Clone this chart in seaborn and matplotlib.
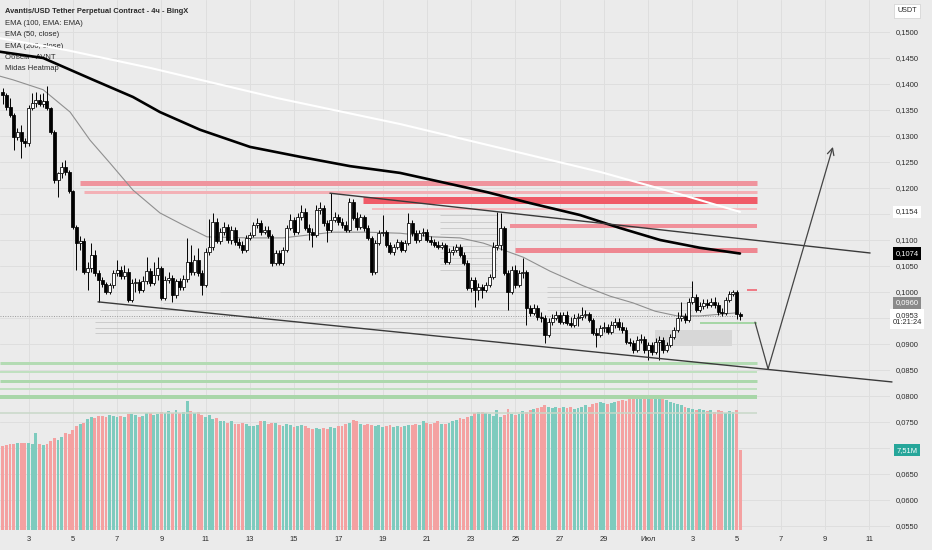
import numpy as np
import matplotlib
matplotlib.use("Agg")
import matplotlib.pyplot as plt
import matplotlib.transforms as mtransforms
from matplotlib.patches import Rectangle
import seaborn as sns

# 4h candles of AVNT/USDT (first candle: 2 June 20:00)
first_open = 0.1384
closes = [
    0.1379, 0.1356, 0.1340, 0.1298, 0.1308, 0.1290, 0.1287, 0.1354, 0.1363, 0.1369,
    0.1362, 0.1367, 0.1354, 0.1308, 0.1215, 0.1229, 0.1240, 0.1231, 0.1194, 0.1125,
    0.1094, 0.1098, 0.1038, 0.1046, 0.1071, 0.1037, 0.1023, 0.1015, 0.1000, 0.1013,
    0.1037, 0.1042, 0.1031, 0.1038, 0.0985, 0.1017, 0.1019, 0.1004, 0.1021, 0.1040,
    0.1017, 0.1033, 0.1046, 0.0988, 0.1023, 0.1027, 0.0994, 0.1021, 0.1010, 0.1025,
    0.1058, 0.1038, 0.1062, 0.1037, 0.1013, 0.1077, 0.1087, 0.1135, 0.1098, 0.1115,
    0.1125, 0.1100, 0.1119, 0.1096, 0.1090, 0.1081, 0.1104, 0.1110, 0.1129, 0.1133,
    0.1115, 0.1119, 0.1108, 0.1056, 0.1075, 0.1056, 0.1081, 0.1123, 0.1138, 0.1115,
    0.1144, 0.1154, 0.1123, 0.1115, 0.1110, 0.1158, 0.1162, 0.1133, 0.1119, 0.1138,
    0.1144, 0.1135, 0.1129, 0.1119, 0.1173, 0.1142, 0.1125, 0.1144, 0.1123, 0.1104,
    0.1038, 0.1094, 0.1113, 0.1115, 0.1090, 0.1077, 0.1087, 0.1096, 0.1081, 0.1094,
    0.1133, 0.1113, 0.1100, 0.1113, 0.1115, 0.1100, 0.1096, 0.1090, 0.1087, 0.1090,
    0.1058, 0.1077, 0.1081, 0.1087, 0.1071, 0.1056, 0.1008, 0.1023, 0.1004, 0.1010,
    0.1004, 0.1013, 0.1029, 0.1087, 0.1090, 0.1123, 0.1037, 0.1000, 0.1042, 0.1013,
    0.1037, 0.1038, 0.0969, 0.0960, 0.0969, 0.0952, 0.0950, 0.0917, 0.0942, 0.0950,
    0.0956, 0.0942, 0.0956, 0.0940, 0.0937, 0.0950, 0.0952, 0.0956, 0.0958, 0.0946,
    0.0921, 0.0917, 0.0931, 0.0933, 0.0923, 0.0937, 0.0942, 0.0933, 0.0927, 0.0904,
    0.0902, 0.0888, 0.0908, 0.0910, 0.0888, 0.0898, 0.0885, 0.0904, 0.0908, 0.0888,
    0.0898, 0.0913, 0.0927, 0.0950, 0.0954, 0.0946, 0.0981, 0.0990, 0.0965, 0.0973,
    0.0979, 0.0975, 0.0981, 0.0975, 0.0962, 0.0960, 0.0985, 0.0996, 0.1000, 0.0958,
    0.0953,
]
highs = [
    0.1392, 0.1383, 0.1373, 0.1344, 0.1315, 0.1321, 0.1296, 0.1360, 0.1383, 0.1384,
    0.1381, 0.1383, 0.1396, 0.1356, 0.1312, 0.1231, 0.1250, 0.1254, 0.1235, 0.1196,
    0.1129, 0.1108, 0.1104, 0.1058, 0.1094, 0.1081, 0.1042, 0.1029, 0.1019, 0.1017,
    0.1042, 0.1062, 0.1050, 0.1052, 0.1046, 0.1025, 0.1027, 0.1025, 0.1031, 0.1067,
    0.1046, 0.1058, 0.1067, 0.1050, 0.1031, 0.1038, 0.1033, 0.1025, 0.1027, 0.1033,
    0.1104, 0.1090, 0.1071, 0.1085, 0.1042, 0.1085, 0.1140, 0.1152, 0.1142, 0.1123,
    0.1135, 0.1131, 0.1127, 0.1125, 0.1104, 0.1098, 0.1110, 0.1115, 0.1135, 0.1142,
    0.1138, 0.1127, 0.1127, 0.1112, 0.1081, 0.1081, 0.1087, 0.1129, 0.1150, 0.1144,
    0.1152, 0.1167, 0.1162, 0.1131, 0.1123, 0.1167, 0.1173, 0.1167, 0.1138, 0.1190,
    0.1154, 0.1150, 0.1142, 0.1137, 0.1181, 0.1179, 0.1154, 0.1150, 0.1148, 0.1129,
    0.1108, 0.1100, 0.1119, 0.1148, 0.1119, 0.1096, 0.1092, 0.1102, 0.1100, 0.1100,
    0.1152, 0.1138, 0.1119, 0.1119, 0.1123, 0.1121, 0.1108, 0.1102, 0.1098, 0.1096,
    0.1094, 0.1085, 0.1088, 0.1092, 0.1092, 0.1077, 0.1062, 0.1029, 0.1029, 0.1017,
    0.1015, 0.1019, 0.1035, 0.1096, 0.1154, 0.1152, 0.1127, 0.1042, 0.1050, 0.1052,
    0.1042, 0.1065, 0.1042, 0.0975, 0.0977, 0.0975, 0.0962, 0.0956, 0.0950, 0.0958,
    0.0963, 0.0962, 0.0962, 0.0963, 0.0952, 0.0958, 0.0960, 0.0971, 0.0965, 0.0962,
    0.0950, 0.0931, 0.0937, 0.0942, 0.0938, 0.0944, 0.0950, 0.0950, 0.0942, 0.0933,
    0.0912, 0.0908, 0.0915, 0.0919, 0.0915, 0.0904, 0.0904, 0.0912, 0.0915, 0.0913,
    0.0904, 0.0919, 0.0933, 0.0962, 0.0981, 0.0960, 0.0988, 0.1021, 0.0996, 0.0981,
    0.0987, 0.0987, 0.0988, 0.0990, 0.0981, 0.0969, 0.0990, 0.1002, 0.1004, 0.1004,
    0.0962,
]
lows = [
    0.1362, 0.1350, 0.1337, 0.1273, 0.1292, 0.1258, 0.1279, 0.1281, 0.1350, 0.1356,
    0.1358, 0.1356, 0.1350, 0.1304, 0.1210, 0.1183, 0.1219, 0.1225, 0.1190, 0.1121,
    0.1042, 0.1081, 0.1035, 0.1004, 0.1038, 0.1031, 0.0981, 0.1010, 0.0996, 0.0996,
    0.1008, 0.1031, 0.1025, 0.1025, 0.0981, 0.0981, 0.1000, 0.0998, 0.1000, 0.1015,
    0.1012, 0.1013, 0.1023, 0.0985, 0.0985, 0.1017, 0.0981, 0.0988, 0.1004, 0.1004,
    0.1019, 0.1033, 0.1033, 0.1031, 0.0994, 0.1010, 0.1071, 0.1081, 0.1094, 0.1092,
    0.1110, 0.1094, 0.1092, 0.1090, 0.1085, 0.1075, 0.1077, 0.1100, 0.1106, 0.1123,
    0.1110, 0.1112, 0.1104, 0.1050, 0.1052, 0.1052, 0.1052, 0.1077, 0.1119, 0.1110,
    0.1112, 0.1138, 0.1119, 0.1100, 0.1087, 0.1106, 0.1150, 0.1127, 0.1096, 0.1115,
    0.1135, 0.1129, 0.1123, 0.1115, 0.1115, 0.1138, 0.1119, 0.1121, 0.1117, 0.1100,
    0.1033, 0.1035, 0.1090, 0.1108, 0.1087, 0.1073, 0.1071, 0.1083, 0.1077, 0.1077,
    0.1090, 0.1108, 0.1094, 0.1096, 0.1108, 0.1096, 0.1090, 0.1087, 0.1083, 0.1083,
    0.1054, 0.1054, 0.1071, 0.1077, 0.1067, 0.1052, 0.1004, 0.1000, 0.0971, 0.0985,
    0.0988, 0.1000, 0.1010, 0.1025, 0.1081, 0.1081, 0.1033, 0.0965, 0.0996, 0.1008,
    0.1010, 0.1027, 0.0937, 0.0954, 0.0956, 0.0946, 0.0942, 0.0902, 0.0913, 0.0937,
    0.0946, 0.0938, 0.0938, 0.0937, 0.0933, 0.0933, 0.0935, 0.0946, 0.0950, 0.0942,
    0.0917, 0.0894, 0.0913, 0.0923, 0.0919, 0.0919, 0.0931, 0.0927, 0.0921, 0.0900,
    0.0896, 0.0883, 0.0885, 0.0902, 0.0883, 0.0869, 0.0879, 0.0881, 0.0869, 0.0883,
    0.0885, 0.0894, 0.0910, 0.0923, 0.0944, 0.0940, 0.0942, 0.0977, 0.0962, 0.0962,
    0.0967, 0.0969, 0.0971, 0.0969, 0.0956, 0.0954, 0.0956, 0.0981, 0.0992, 0.0948,
    0.0946,
]
# volume per candle, millions AVNT
volumes = [
    7.9, 8.0, 8.1, 8.1, 8.2, 8.2, 8.2, 8.2, 8.1, 9.1,
    8.1, 8.0, 8.1, 8.4, 8.6, 8.5, 8.7, 9.1, 9.0, 9.4,
    9.8, 10.0, 10.1, 10.4, 10.6, 10.5, 10.7, 10.7, 10.6, 10.8,
    10.7, 10.6, 10.7, 10.6, 10.9, 10.9, 10.8, 10.6, 10.7, 11.0,
    11.0, 10.8, 10.9, 11.1, 11.0, 11.2, 11.0, 11.3, 11.0, 11.1,
    12.1, 11.2, 11.0, 11.1, 10.8, 10.6, 10.8, 10.4, 10.5, 10.2,
    10.2, 10.1, 10.2, 10.0, 10.0, 10.1, 10.0, 9.8, 9.8, 9.9,
    10.2, 10.2, 10.0, 10.1, 10.1, 9.9, 9.8, 10.0, 9.9, 9.7,
    9.8, 9.9, 9.8, 9.6, 9.5, 9.6, 9.5, 9.6, 9.5, 9.7,
    9.6, 9.8, 9.8, 10.0, 10.1, 10.3, 10.2, 10.0, 9.9, 10.0,
    9.9, 9.8, 9.9, 9.7, 9.8, 9.9, 9.7, 9.8, 9.7, 9.8,
    9.9, 9.9, 10.0, 9.9, 10.2, 10.1, 10.0, 10.1, 10.2, 10.0,
    10.0, 10.1, 10.2, 10.3, 10.5, 10.4, 10.6, 10.7, 11.0, 11.1,
    11.1, 11.0, 10.9, 10.7, 11.3, 10.6, 10.8, 11.4, 10.9, 10.8,
    10.9, 11.2, 11.1, 11.3, 11.4, 11.5, 11.6, 11.7, 11.6, 11.5,
    11.6, 11.5, 11.6, 11.5, 11.6, 11.4, 11.5, 11.6, 11.7, 11.6,
    11.8, 11.9, 12.0, 11.9, 11.8, 11.9, 12.0, 12.1, 12.2, 12.1,
    12.3, 12.4, 12.5, 12.5, 12.6, 12.5, 12.4, 12.6, 12.4, 12.3,
    12.2, 12.0, 11.9, 11.8, 11.7, 11.6, 11.5, 11.4, 11.3, 11.4,
    11.3, 11.2, 11.3, 11.1, 11.3, 11.2, 11.0, 11.2, 11.1, 11.3,
    7.51,
]

# moving averages, sampled along the drawn lines (x = days from 3 June)
ema50_days = [-1.29, -0.70, 0.66, 1.88, 2.78, 3.68, 4.72, 5.94, 6.98, 8.07, 10.01,
              11.50, 12.72, 13.76, 15.30, 16.79, 18.28, 19.50, 20.55, 21.44, 22.35,
              23.57, 25.06, 26.28, 27.32, 28.32, 29.31, 30.35, 32.02]
ema50_vals = [0.1415, 0.1408, 0.1389, 0.1346, 0.1292, 0.1248, 0.1196, 0.1152, 0.1129,
              0.1106, 0.1104, 0.1104, 0.1110, 0.1115, 0.1115, 0.1113, 0.1106, 0.1104,
              0.1094, 0.1081, 0.1067, 0.1040, 0.1012, 0.0992, 0.0979, 0.0963, 0.0954,
              0.0954, 0.0960]
ema100_days = [-1.29, 1.74, 5.49, 11.23, 16.79, 21.31, 25.82, 29.44, 32.15]
ema100_vals = [0.1488, 0.1465, 0.1431, 0.1373, 0.1323, 0.1277, 0.1231, 0.1188, 0.1154]
ema200_days = [-1.29, 0.66, 2.92, 4.72, 5.94, 7.75, 10.01, 12.27, 14.53, 16.79, 18.28,
               20.72, 22.66, 24.92, 26.73, 28.54, 30.34, 32.15]
ema200_vals = [0.1462, 0.1450, 0.1408, 0.1375, 0.1346, 0.1312, 0.1279, 0.1260, 0.1242,
               0.1229, 0.1215, 0.1192, 0.1171, 0.1148, 0.1123, 0.1100, 0.1085, 0.1074]

# Midas heatmap levels
red_levels = [0.1210, 0.1192, 0.1177, 0.1160, 0.1127, 0.1081, 0.1003]
red_start = [2.33, 2.51, 15.12, 15.52, 21.76, 21.98, 32.47]
green_levels = [0.0941, 0.0863, 0.0846, 0.0829, 0.0813, 0.0798, 0.0767]
green_start = [30.34, -1.3, -1.3, -1.3, -1.3, -1.3, -1.3]
heat_end = 32.92
gray_levels = [0.1000, 0.0979, 0.0965, 0.0942, 0.0931, 0.0921,
               0.1010, 0.1000, 0.0990, 0.0979, 0.0965,
               0.1148, 0.1135, 0.1123, 0.1112, 0.1100, 0.1088, 0.1077, 0.1065, 0.1054, 0.1042]
gray_start = [8.66, 6.08, 3.23, 3.0, 3.0, 3.0,
              23.43, 23.43, 23.43, 23.43, 23.43,
              18.6, 18.6, 18.6, 18.6, 18.6, 18.6, 18.6, 18.6, 18.6, 18.6]
gray_end = [22.43, 22.43, 22.43, 22.43, 25.8, 27.6,
            29.98, 29.98, 29.98, 29.98, 29.98,
            21.17, 21.17, 21.17, 21.17, 21.17, 21.17, 21.17, 21.17, 21.17, 21.17]
gray_box_days = [28.3, 31.79]
gray_box_vals = [0.0896, 0.0927]

# drawn trend lines and the projected path
upper_days, upper_vals = [13.62, 38.03], [0.1190, 0.1075]
lower_days, lower_vals = [3.14, 39.02], [0.0981, 0.0827]
proj_days, proj_vals = [32.83, 33.42, 36.35], [0.0942, 0.0852, 0.1279]

last_price = 0.0953
ema50_last = 0.0960
ema100_last = 0.1154
ema200_last = 0.1074
last_volume = 7.51

day_ticks = list(range(0, 39, 2))
day_labels = ["3", "5", "7", "9", "11", "13", "15", "17", "19", "21", "23", "25",
              "27", "29", "Июл", "3", "5", "7", "9", "11"]
price_ticks = [0.055, 0.060, 0.065, 0.070, 0.075, 0.080, 0.085, 0.090, 0.095, 0.100,
               0.105, 0.110, 0.115, 0.120, 0.125, 0.130, 0.135, 0.140, 0.145, 0.150]
hidden_ticks = [0.070, 0.095, 0.115]

# styles
bg = "#ebebeb"
grid_c = "#dedede"
txt = "#2a2a2a"
red_colors = ["#ef949d", "#f3b1b6", "#f05b68", "#f5bcc0", "#f0909a", "#ee8791", "#ef7b86"]
red_widths = [5, 3, 7, 2, 4, 5, 2]
green_colors = ["#a6d6a6", "#b3dbb3", "#c0e0c0", "#acd8ac", "#c0e0c0", "#a8d6a8", "#c8d8c8"]
green_widths = [2, 3, 2, 3, 2, 4, 1.5]

sns.set_theme(style="white")
plt.rcParams["font.family"] = ["Liberation Sans", "DejaVu Sans"]

fig = plt.figure(figsize=(9.32, 5.5), dpi=100, facecolor=bg)
ax = fig.add_axes([0, 20 / 550, 890 / 932, 530 / 550])
axv = ax.twinx()
ax.set_zorder(2)
axv.set_zorder(1)
ax.patch.set_visible(False)

ax.set_xlim(-1.288, 38.93)
ax.set_ylim(0.05423, 0.15615)
axv.set_ylim(0, 49.8)

# grid behind everything
grid_tr = mtransforms.blended_transform_factory(axv.transAxes, ax.transData)
for p in price_ticks:
    axv.plot([0, 1], [p, p], transform=grid_tr, color=grid_c, lw=0.7, zorder=0)
for d in day_ticks:
    axv.axvline(d, color=grid_c, lw=0.7, zorder=0)

# candles
n = len(closes)
t = -7 / 6 + np.arange(n) / 6
c = np.array(closes)
o = np.r_[first_open, c[:-1]]
h = np.maximum(np.array(highs), np.maximum(o, c))
l = np.minimum(np.array(lows), np.minimum(o, c))
up = c >= o
body = np.maximum(np.abs(c - o), 0.00008)
bottom = np.minimum(o, c)

# volume
vol_colors = np.where(up, "#7ecbbe", "#f4a1a1")
axv.bar(t, volumes, width=0.13, color=vol_colors, linewidth=0, zorder=1)

# heatmap lines
ax.hlines(red_levels, red_start, heat_end, colors=red_colors,
          linewidths=[w * 0.72 for w in red_widths], zorder=2)
ax.hlines(green_levels, green_start, heat_end, colors=green_colors,
          linewidths=[w * 0.72 for w in green_widths], zorder=2)
ax.hlines(gray_levels, gray_start, gray_end, colors="#c6c6c6", linewidths=0.6, zorder=2)
ax.add_patch(Rectangle((gray_box_days[0], gray_box_vals[0]),
                       gray_box_days[1] - gray_box_days[0],
                       gray_box_vals[1] - gray_box_vals[0],
                       facecolor="#d7d7d7", edgecolor="none", zorder=2))
ax.hlines(last_price, -1.3, t[-1], colors="#9a9a9a", linestyles=(0, (1, 1.5)),
          linewidths=0.7, zorder=2)

# moving averages
sns.lineplot(x=ema100_days, y=ema100_vals, ax=ax, color="white", lw=1.5, zorder=4)
sns.lineplot(x=ema50_days, y=ema50_vals, ax=ax, color="#8f8f8f", lw=0.8, zorder=4)
sns.lineplot(x=ema200_days, y=ema200_vals, ax=ax, color="black", lw=1.9, zorder=4)

ax.vlines(t, l, h, color="black", lw=0.7, zorder=5)
ax.bar(t[up], body[up], bottom=bottom[up], width=0.135, color="white",
       edgecolor="black", linewidth=0.55, zorder=6)
ax.bar(t[~up], body[~up], bottom=bottom[~up], width=0.135, color="black",
       edgecolor="black", linewidth=0.55, zorder=6)

# trend lines and projection
ax.plot(upper_days, upper_vals, color="#3a3a3a", lw=1.0, zorder=7, clip_on=False)
ax.plot(lower_days, lower_vals, color="#3a3a3a", lw=1.0, zorder=7, clip_on=False)
ax.plot(proj_days[:2], proj_vals[:2], color="#444444", lw=0.9, zorder=7)
ax.annotate("", xy=(proj_days[2], proj_vals[2]), xytext=(proj_days[1], proj_vals[1]),
            arrowprops=dict(arrowstyle="->", color="#444444", lw=0.9,
                            shrinkA=0, shrinkB=0), zorder=7)

# axes
for a in (ax, axv):
    for s in a.spines.values():
        s.set_visible(False)
axv.yaxis.set_visible(False)
ax.yaxis.tick_right()
ax.set_yticks(price_ticks)
ax.set_yticklabels(["" if p in hidden_ticks else f"{p:.4f}".replace(".", ",")
                    for p in price_ticks])
ax.tick_params(axis="y", length=0, pad=4.3, labelsize=5.4, labelcolor=txt)
ax.set_xticks(day_ticks)
ax.set_xticklabels(day_labels)
ax.tick_params(axis="x", length=0, pad=4.0, labelsize=5.4, labelcolor=txt)
ax.grid(False)
axv.grid(False)

# legend block top-left
legend_lines = ["EMA (100, EMA: EMA)", "EMA (50, close)", "EMA (200, close)",
                "Объем - AVNT", "Midas Heatmap"]
ax.text(5 / 890, 1 - 11.7 / 530, "Avantis/USD Tether Perpetual Contract - 4ч - BingX",
        transform=ax.transAxes, fontsize=5.4, fontweight="bold", color=txt,
        va="center", ha="left", zorder=1)
for k, s in enumerate(legend_lines):
    ax.text(5 / 890, 1 - (23.3 + 11.4 * k) / 530, s, transform=ax.transAxes,
            fontsize=5.5, color=txt, va="center", ha="left", zorder=1)

# price scale labels
tr_p = mtransforms.blended_transform_factory(ax.transAxes, ax.transData)
tr_v = mtransforms.blended_transform_factory(ax.transAxes, axv.transData)
lx = 907 / 890
box = dict(boxstyle="square,pad=0.35", ec="none")
ax.text(lx, 1 - 11 / 530, "USDT", transform=ax.transAxes, ha="center", va="center",
        fontsize=5.2, color=txt,
        bbox=dict(boxstyle="square,pad=0.5", fc="white", ec="#cfcfcf", lw=0.5))
ax.text(lx, ema100_last, f"{ema100_last:.4f}".replace(".", ","), transform=tr_p,
        ha="center", va="center", fontsize=5.4, color=txt, bbox=dict(box, fc="white"))
ax.text(lx, ema200_last, f"{ema200_last:.4f}".replace(".", ","), transform=tr_p,
        ha="center", va="center", fontsize=5.4, color="white", bbox=dict(box, fc="black"))
ax.text(lx, 1 - 303 / 530, f"{ema50_last:.4f}".replace(".", ","), transform=ax.transAxes,
        ha="center", va="center", fontsize=5.4, color="white", bbox=dict(box, fc="#8a8a8a"))
ax.text(lx, 1 - 319 / 530, f"{last_price:.4f}".replace(".", ",") + "\n01:21:24",
        transform=ax.transAxes, ha="center", va="center", fontsize=5.4, color=txt,
        linespacing=1.15, bbox=dict(box, fc="white"))
ax.text(lx, last_volume, f"{last_volume:.2f}".replace(".", ",") + "M", transform=tr_v,
        ha="center", va="center", fontsize=5.4, color="white", bbox=dict(box, fc="#26a69a"))

fig.savefig("out.png", dpi=100, facecolor=bg)
